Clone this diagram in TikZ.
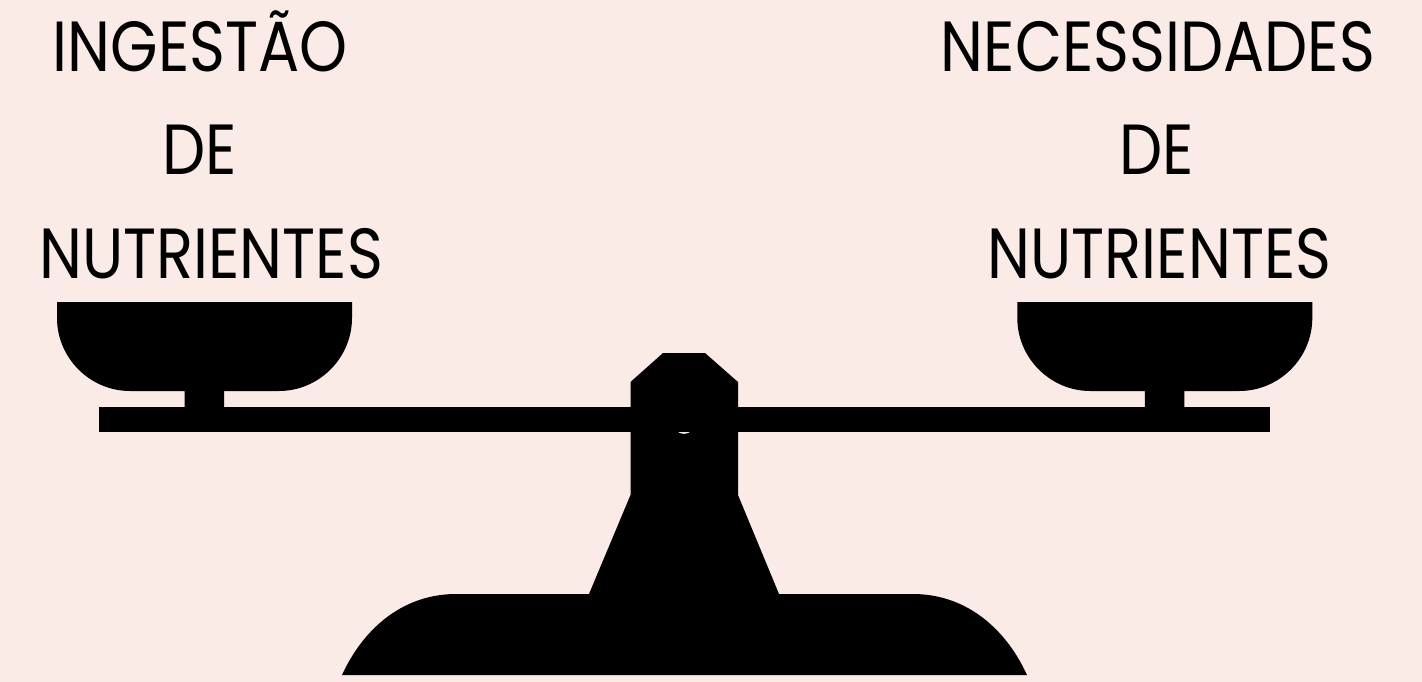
\documentclass[tikz,border=0pt]{standalone}
\usepackage{fontspec}
\setmainfont{Poppins}
\definecolor{bgc}{HTML}{FAEBE7}
\tikzset{
  lbl/.style={inner sep=0pt,anchor=base,font=\fontsize{71}{71}\selectfont,text=black},
  solid shape/.style={fill=black,draw=none}
}
\begin{document}
\begin{tikzpicture}[x=1pt,y=-1pt]
\useasboundingbox (0,0) rectangle (1422,682);
\fill[bgc] (0,0) rectangle (1422,682);
% labels
\node[lbl,xscale=.86] (t1) at (200,72) {INGESTÃO};
\node[lbl,xscale=.86] (t2) at (199.5,175) {DE};
\node[lbl,xscale=.86] (t3) at (211,278) {NUTRIENTES};
\node[lbl,xscale=.86] (t4) at (1158,72) {NECESSIDADES};
\node[lbl,xscale=.86] (t5) at (1157,175) {DE};
\node[lbl,xscale=.86] (t6) at (1159.5,278) {NUTRIENTES};
% beam
\fill[solid shape] (98.5,407) rectangle (1270,432);
% pans
\foreach \dx in {0,960.3}{
  \begin{scope}[shift={(\dx,0)}]
  \fill[solid shape] (57,302) -- (352,302) -- (352,318)
     .. controls (352,358) and (319,391) .. (279,391) -- (224,391) -- (224,407) -- (184.5,407) -- (184.5,391) -- (130,391)
     .. controls (90,391) and (57,358) .. (57,318) -- cycle;
  \end{scope}
}
% pillar and base
\fill[solid shape,even odd rule] (663,353) -- (705,353) -- (738,382) -- (738,495) -- (779,594) -- (913,594)
   .. controls (963,594) and (1004,625) .. (1027,675) -- (342,675)
   .. controls (365,625) and (406,594) .. (456,594) -- (589,594) -- (630.5,495) -- (630.5,382) -- cycle
   (684,423) circle[radius=11];
\end{tikzpicture}
\end{document}
